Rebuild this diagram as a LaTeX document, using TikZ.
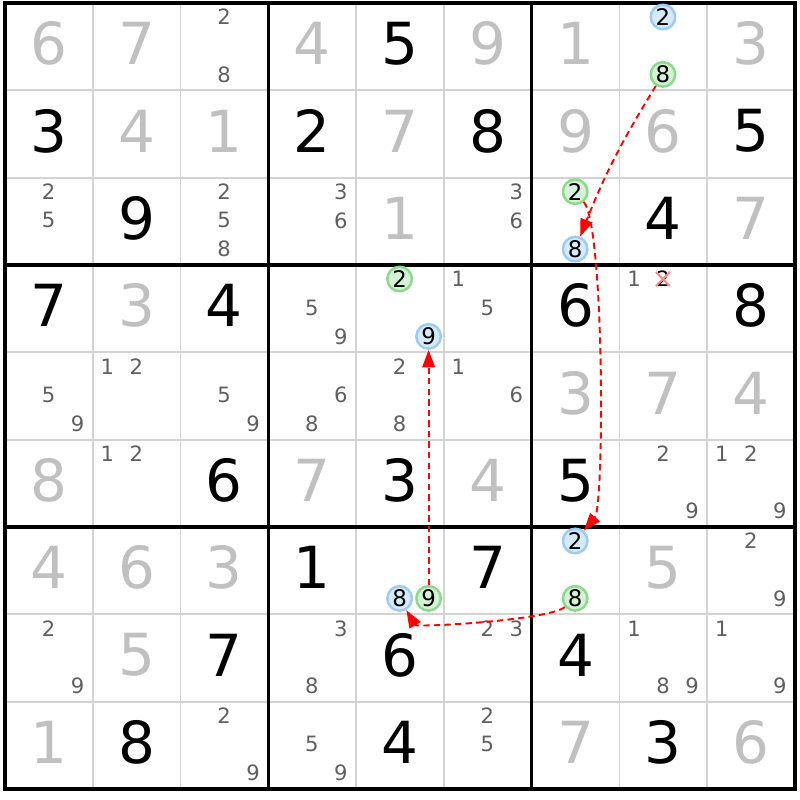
\documentclass[tikz,border=0pt]{standalone}
\usepackage{fontspec}
\setmainfont{DejaVu Sans}
\usepackage{xcolor}
\usepackage{tikz}
\usetikzlibrary{arrows.meta}
\definecolor{gridgray}{HTML}{D3D3D3}
\definecolor{solvedgray}{HTML}{C0C0C0}
\definecolor{candgray}{HTML}{5F5F5F}
\definecolor{blueline}{HTML}{9CCBF5}
\definecolor{bluefill}{HTML}{D6EAFC}
\definecolor{greenline}{HTML}{8CD98C}
\definecolor{greenfill}{HTML}{D6F2D6}
\definecolor{crossred}{HTML}{FF8F8F}
\newcommand{\cand}[4]{\node[#1] (r#2c#3n#4) at ({5+87.78*(#3-1)+14.5+29*mod(#4-1,3)},{-(3+87.33*(#2-1)+14+28.7*floor((#4-1)/3))}) {#4};}

\begin{document}
\begin{tikzpicture}[x=0.01cm,y=0.01cm,
    gridthin/.style={draw=gridgray,line width=0.5pt},
    gridthick/.style={draw=black,line width=0.9pt},
    given/.style={font=\fontsize{16.5}{18}\selectfont,text=black,inner sep=0pt,yshift=0.03cm},
    solved/.style={given,text=solvedgray},
    cand/.style={font=\fontsize{6}{7}\selectfont,text=candgray,inner sep=0.5pt},
    hl/.style={circle,minimum size=0.245cm,inner sep=0pt,line width=0.7pt,text=black,font=\fontsize{6.5}{7}\selectfont},
    hlblue/.style={hl,draw=blueline,fill=bluefill},
    hlgreen/.style={hl,draw=greenline,fill=greenfill},
    link/.style={red,dash pattern=on 1.8pt off 1.2pt,line width=0.55pt,-{Triangle[length=5pt,width=3.6pt]}}]
  \useasboundingbox (0,0) rectangle (800,-800);
  \foreach \i in {1,2,4,5,7,8} {
    \draw[gridthin] ({5+87.78*\i},-3) -- ({5+87.78*\i},-789);
    \draw[gridthin] (5,{-(3+87.33*\i)}) -- (795,{-(3+87.33*\i)});
  }
  \foreach \i in {3,6} {
    \draw[gridthick] ({5+87.78*\i},-3) -- ({5+87.78*\i},-789);
    \draw[gridthick] (5,{-(3+87.33*\i)}) -- (795,{-(3+87.33*\i)});
  }
  \draw[gridthick] (5,-3) rectangle (795,-789);

  \foreach \row/\col/\dg in {1/5/5, 2/1/3, 2/4/2, 2/6/8, 2/9/5, 3/2/9, 3/8/4,
      4/1/7, 4/3/4, 4/7/6, 4/9/8, 6/3/6, 6/5/3, 6/7/5, 7/4/1, 7/6/7,
      8/3/7, 8/5/6, 8/7/4, 9/2/8, 9/5/4, 9/8/3}
    \node[given] (d\row\col) at ({5+87.78*(\col-0.5)},{-(3+87.33*(\row-0.5))}) {\dg};
  \foreach \row/\col/\dg in {1/1/6, 1/2/7, 1/4/4, 1/6/9, 1/7/1, 1/9/3,
      2/2/4, 2/3/1, 2/5/7, 2/7/9, 2/8/6, 3/5/1, 3/9/7, 4/2/3,
      5/7/3, 5/8/7, 5/9/4, 6/1/8, 6/4/7, 6/6/4,
      7/1/4, 7/2/6, 7/3/3, 7/8/5, 8/2/5, 9/1/1, 9/7/7, 9/9/6}
    \node[solved] (d\row\col) at ({5+87.78*(\col-0.5)},{-(3+87.33*(\row-0.5))}) {\dg};

  \foreach \row/\col/\ds in {1/3/{2,8}, 3/1/{2,5}, 3/3/{2,5,8}, 3/4/{3,6}, 3/6/{3,6},
      4/4/{5,9}, 4/6/{1,5}, 4/8/{1}, 5/1/{5,9}, 5/2/{1,2}, 5/3/{5,9}, 5/4/{6,8},
      5/5/{2,8}, 5/6/{1,6}, 6/2/{1,2}, 6/8/{2,9}, 6/9/{1,2,9}, 7/9/{2,9},
      8/1/{2,9}, 8/4/{3,8}, 8/6/{2,3}, 8/8/{1,8,9}, 8/9/{1,9},
      9/3/{2,9}, 9/4/{5,9}, 9/6/{2,5}}
    \foreach \dg in \ds {\cand{cand}{\row}{\col}{\dg}}
  \cand{cand,text=black}{4}{8}{2}
  \draw[crossred,line width=0.6pt] ([shift={(-7,7)}]r4c8n2.center) -- ([shift={(7,-7)}]r4c8n2.center);
  \draw[crossred,line width=0.6pt] ([shift={(-7,-7)}]r4c8n2.center) -- ([shift={(7,7)}]r4c8n2.center);

  \foreach \row/\col/\dg in {1/8/2, 3/7/8, 4/5/9, 7/5/8, 7/7/2}
    {\cand{hlblue}{\row}{\col}{\dg}}
  \foreach \row/\col/\dg in {1/8/8, 3/7/2, 4/5/2, 7/5/9, 7/7/8}
    {\cand{hlgreen}{\row}{\col}{\dg}}

  \draw[link] (r1c8n8) to[bend right=5] (r3c7n8);
  \draw[link] (r3c7n2) to[out=-50,in=50,looseness=0.25] (r7c7n2);
  \draw[link] (r7c5n9) -- (r4c5n9);
  \draw[link] (r7c7n8) to[out=220,in=-60,looseness=0.33] (r7c5n8);
\end{tikzpicture}
\end{document}
